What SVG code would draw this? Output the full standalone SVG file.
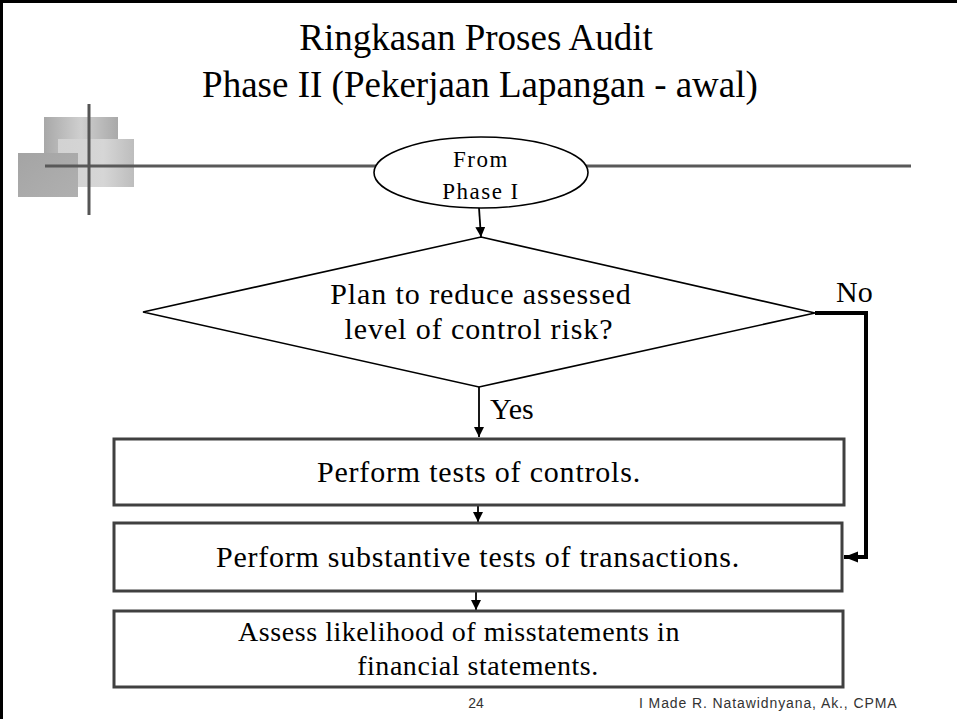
<svg xmlns="http://www.w3.org/2000/svg" width="957" height="719" viewBox="0 0 957 719">
  <defs>
    <linearGradient id="gA" x1="0" y1="0" x2="1" y2="0">
      <stop offset="0" stop-color="#a8a8a8"/>
      <stop offset="0.5" stop-color="#cfcfcf"/>
      <stop offset="1" stop-color="#a9a9a9"/>
    </linearGradient>
    <linearGradient id="gB" x1="0" y1="0" x2="1" y2="0">
      <stop offset="0" stop-color="#d2d2d2"/>
      <stop offset="0.6" stop-color="#d6d6d6"/>
      <stop offset="1" stop-color="#bdbdbd"/>
    </linearGradient>
    <linearGradient id="gC" x1="0" y1="0" x2="1" y2="1">
      <stop offset="0" stop-color="#a4a4a4"/>
      <stop offset="1" stop-color="#b0b0b0"/>
    </linearGradient>
    <marker id="arr" viewBox="0 0 10 10" refX="10" refY="5" markerWidth="10" markerHeight="10" markerUnits="userSpaceOnUse" orient="auto">
      <path d="M0,0 L10,5 L0,10 Z" fill="#000"/>
    </marker>
    <marker id="arrBig" viewBox="0 0 10 10" refX="10" refY="5" markerWidth="14" markerHeight="14" markerUnits="userSpaceOnUse" orient="auto">
      <path d="M0,1 L10,5 L0,9 Z" fill="#000"/>
    </marker>
  </defs>
  <style>
    .serif { font-family: "Liberation Serif", "Times New Roman", serif; fill: #000; }
    .title { font-size: 37px; }
    .lbl { font-size: 30px; }
    .small { font-size: 23px; }
    .box { fill: #fff; stroke: #404040; stroke-width: 3; }
    .shape { fill: #fff; stroke: #000; stroke-width: 1.6; }
    .conn { stroke: #000; stroke-width: 1.8; fill: none; }
    .foot { font-family: "Liberation Sans", Arial, sans-serif; font-size: 14px; fill: #333; }
  </style>

  <rect x="0" y="0" width="957" height="719" fill="#fff"/>
  <!-- page frame -->
  <line x1="0" y1="1.5" x2="957" y2="1.5" stroke="#000" stroke-width="3"/>
  <line x1="1.5" y1="0" x2="1.5" y2="719" stroke="#000" stroke-width="3"/>

  <!-- title -->
  <g id="title">
    <text class="serif title" x="476" y="50" text-anchor="middle">Ringkasan Proses Audit</text>
    <text class="serif title" x="480" y="97" text-anchor="middle">Phase II (Pekerjaan Lapangan - awal)</text>
  </g>

  <!-- decorative squares and cross lines -->
  <g id="decor">
    <rect x="44" y="117" width="74" height="60" fill="url(#gA)"/>
    <rect x="58" y="139" width="76" height="48" fill="url(#gB)"/>
    <rect x="18" y="153" width="60" height="44" fill="url(#gC)"/>
    <line x1="45" y1="166" x2="911" y2="166" stroke="#595959" stroke-width="3"/>
    <line x1="89" y1="104" x2="89" y2="215" stroke="#555" stroke-width="3"/>
  </g>

  <!-- connectors -->
  <g id="connectors">
    <line class="conn" x1="479" y1="208" x2="481" y2="237" marker-end="url(#arr)"/>
    <line class="conn" x1="479" y1="387" x2="479" y2="437" marker-end="url(#arr)"/>
    <line class="conn" x1="478" y1="505" x2="478" y2="522" marker-end="url(#arr)"/>
    <line class="conn" x1="476" y1="591" x2="476" y2="610" marker-end="url(#arr)"/>
    <polyline points="815,313 866,313 866,557 844,557" fill="none" stroke="#000" stroke-width="4" marker-end="url(#arrBig)"/>
  </g>

  <!-- start terminal -->
  <g id="start">
    <ellipse class="shape" cx="481" cy="172.5" rx="107" ry="35.5"/>
    <text class="serif small" x="481" y="167" text-anchor="middle" letter-spacing="1.5">From</text>
    <text class="serif small" x="481" y="199" text-anchor="middle" letter-spacing="1.5">Phase I</text>
  </g>

  <!-- decision -->
  <g id="decision">
    <polygon class="shape" points="481,237 815,313 479,387 143,312"/>
    <text class="serif lbl" x="481" y="304" text-anchor="middle" letter-spacing="0.9">Plan to reduce assessed</text>
    <text class="serif lbl" x="479" y="339" text-anchor="middle" letter-spacing="0.9">level of control risk?</text>
    <text class="serif lbl" x="836" y="302">No</text>
    <text class="serif lbl" x="490" y="419">Yes</text>
  </g>

  <!-- process steps -->
  <g id="step1">
    <rect class="box" x="114" y="439" width="730" height="66"/>
    <text class="serif lbl" x="479" y="482" text-anchor="middle" letter-spacing="0.8">Perform tests of controls.</text>
  </g>
  <g id="step2">
    <rect class="box" x="114" y="523" width="728" height="68"/>
    <text class="serif lbl" x="478" y="567" text-anchor="middle" letter-spacing="0.75">Perform substantive tests of transactions.</text>
  </g>
  <g id="step3">
    <rect class="box" x="114" y="611" width="729" height="76"/>
    <text class="serif" font-size="28" x="459" y="641" text-anchor="middle" letter-spacing="0.55">Assess likelihood of misstatements in</text>
    <text class="serif" font-size="28" x="478" y="675" text-anchor="middle" letter-spacing="0.55">financial statements.</text>
  </g>

  <!-- footer -->
  <g id="footer">
    <text class="foot" x="476" y="708" text-anchor="middle">24</text>
    <text class="foot" x="639" y="708" letter-spacing="0.9">I Made R. Natawidnyana, Ak., CPMA</text>
  </g>
</svg>
